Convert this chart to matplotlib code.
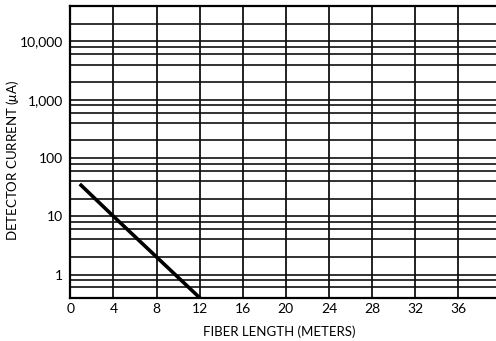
import matplotlib
matplotlib.use('Agg')
import matplotlib.pyplot as plt

# data
fiber_len = [1, 4, 8, 12]
current_uA = [34, 10, 2, 0.4]

x_ticks = [0, 4, 8, 12, 16, 20, 24, 28, 32, 36]
y_ticks = [1, 10, 100, 1000, 10000]
y_tick_labels = ['1', '10', '100', '1,000', '10,000']
# horizontal grid: 1, 2, 4, 6, 8 per decade
y_grid = [m * 10.0 ** e for e in range(-1, 5) for m in (1, 2, 4, 6, 8)]
y_grid = [v for v in y_grid if 0.4 < v < 40000]

plt.rcParams['font.family'] = ['Lato', 'DejaVu Sans']
plt.rcParams['mathtext.fontset'] = 'custom'
plt.rcParams['mathtext.rm'] = 'Lato'
plt.rcParams['mathtext.it'] = 'Lato:italic'

fig = plt.figure(figsize=(4.96, 3.41), dpi=100)
ax = fig.add_axes([0.1417, 0.127, 0.8583, 0.8545])

for v in y_grid:
    ax.axhline(v, color='#222222', lw=1.3, zorder=1)
for v in x_ticks[1:]:
    ax.axvline(v, color='#111111', lw=1.3, zorder=1)

ax.plot(fiber_len, current_uA, color='black', lw=2.6, zorder=3)

ax.set_yscale('log')
ax.set_xlim(0, 39.5)
ax.set_ylim(0.4, 40000)
ax.set_xticks(x_ticks)
ax.set_yticks(y_ticks)
ax.set_yticklabels(y_tick_labels)
ax.minorticks_off()
ax.tick_params(length=0, labelsize=10)
ax.tick_params(axis='y', pad=5)
ax.tick_params(axis='x', pad=4)

for s in ['left', 'bottom', 'top']:
    ax.spines[s].set_linewidth(1.6)
    ax.spines[s].set_color('black')
ax.spines['right'].set_visible(False)

ax.set_xlabel('FIBER LENGTH (METERS)', fontsize=9.5)
ax.set_ylabel(r'DETECTOR CURRENT ($\mu$A)', fontsize=9.5)
ax.xaxis.set_label_coords(0.49, -0.095)
ax.yaxis.set_label_coords(-0.115, 0.47)

plt.savefig('out.png', dpi=100)
